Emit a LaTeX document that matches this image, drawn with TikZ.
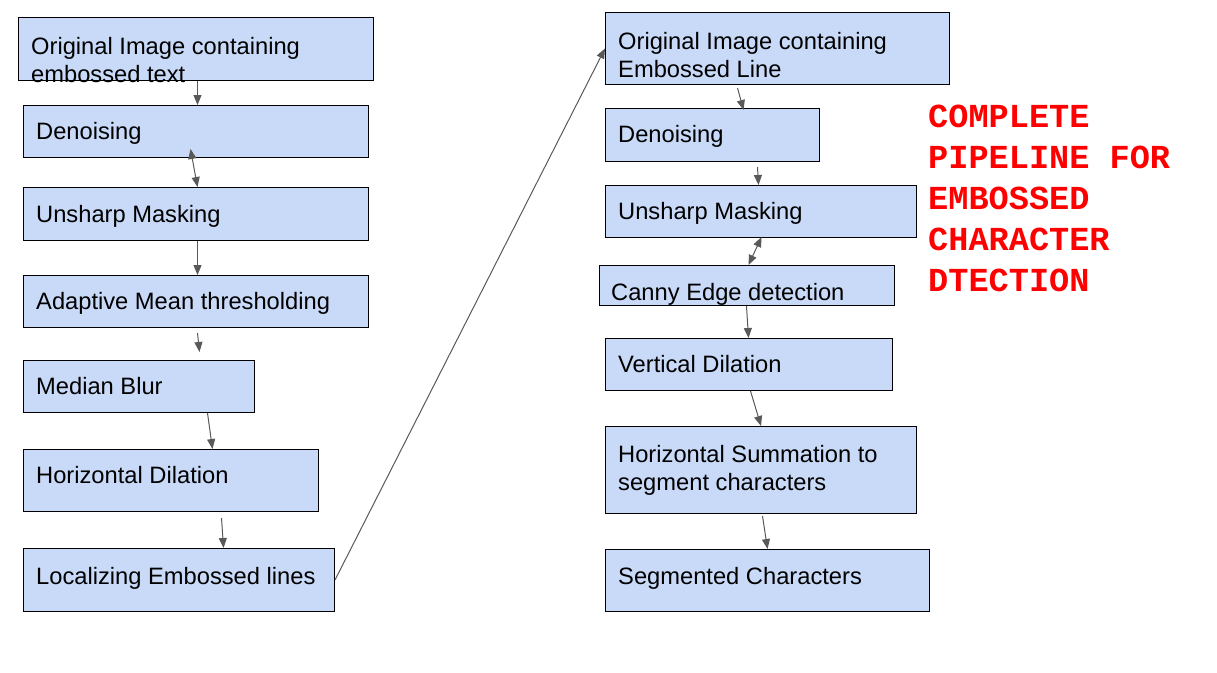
\documentclass[tikz,border=0pt]{standalone}
\usepackage{fontspec}
\setmainfont{Liberation Sans}
\newfontfamily\titlemono{Liberation Mono}
\usetikzlibrary{arrows.meta}

\begin{document}
\begin{tikzpicture}[x=1pt,y=1pt,
    stagebox/.style={draw=black, fill=stageblue, line width=1pt, anchor=north west, inner sep=0pt},
    stagetext/.style={anchor=north west, inner sep=0pt, align=left, font=\fontsize{23.7}{28}\selectfont},
    flow/.style={draw=flowgray, line width=1pt, -{Triangle[length=10pt,width=8pt]}},
    flowboth/.style={draw=flowgray, line width=1pt, {Triangle[length=10pt,width=8pt]}-{Triangle[length=10pt,width=8pt]}}]
    % Define colors
    \definecolor{stageblue}{RGB}{201,218,248}
    \definecolor{flowgray}{RGB}{89,89,89}
    \definecolor{titlered}{RGB}{255,0,0}

    \useasboundingbox (0,0) rectangle (1217,-672);

    % Left column boxes
    \node[stagebox, minimum width=355, minimum height=63] (l1) at (18,-17) {};
    \node[stagebox, minimum width=345, minimum height=52] (l2) at (23,-105) {};
    \node[stagebox, minimum width=345, minimum height=53] (l3) at (23,-187) {};
    \node[stagebox, minimum width=345, minimum height=52] (l4) at (23,-275) {};
    \node[stagebox, minimum width=231, minimum height=52] (l5) at (23,-360) {};
    \node[stagebox, minimum width=295, minimum height=62] (l6) at (23,-449) {};
    \node[stagebox, minimum width=311, minimum height=63] (l7) at (23,-548) {};

    % Right column boxes
    \node[stagebox, minimum width=344, minimum height=72] (r1) at (605,-12) {};
    \node[stagebox, minimum width=214, minimum height=53] (r2) at (605,-108) {};
    \node[stagebox, minimum width=311, minimum height=52] (r3) at (605,-185) {};
    \node[stagebox, minimum width=295, minimum height=40] (r4) at (599,-265) {};
    \node[stagebox, minimum width=287, minimum height=52] (r5) at (605,-338) {};
    \node[stagebox, minimum width=311, minimum height=87] (r6) at (605,-426) {};
    \node[stagebox, minimum width=324, minimum height=62] (r7) at (605,-549) {};

    % Box labels
    \node[stagetext] (l1t) at ([xshift=13,yshift=-20]l1.north west) {Original Image containing\\embossed text};
    \node[stagetext] (l2t) at ([xshift=13,yshift=-17.5]l2.north west) {Denoising};
    \node[stagetext] (l3t) at ([xshift=13,yshift=-18]l3.north west) {Unsharp Masking};
    \node[stagetext] (l4t) at ([xshift=13,yshift=-17.5]l4.north west) {Adaptive Mean thresholding};
    \node[stagetext] (l5t) at ([xshift=13,yshift=-17.5]l5.north west) {Median Blur};
    \node[stagetext] (l6t) at ([xshift=13,yshift=-17.5]l6.north west) {Horizontal Dilation};
    \node[stagetext] (l7t) at ([xshift=13,yshift=-19]l7.north west) {Localizing Embossed lines};
    \node[stagetext] (r1t) at ([xshift=13,yshift=-20]r1.north west) {Original Image containing\\Embossed Line};
    \node[stagetext] (r2t) at ([xshift=13,yshift=-17.5]r2.north west) {Denoising};
    \node[stagetext] (r3t) at ([xshift=13,yshift=-17.5]r3.north west) {Unsharp Masking};
    \node[stagetext] (r4t) at ([xshift=12,yshift=-18.5]r4.north west) {Canny Edge detection};
    \node[stagetext] (r5t) at ([xshift=13,yshift=-17.5]r5.north west) {Vertical Dilation};
    \node[stagetext] (r6t) at ([xshift=13,yshift=-19]r6.north west) {Horizontal Summation to\\segment characters};
    \node[stagetext] (r7t) at ([xshift=13,yshift=-18.5]r7.north west) {Segmented Characters};

    % Title
    \node[anchor=north west, inner sep=0pt, align=left, text=titlered,
          font=\titlemono\bfseries\fontsize{33.6}{41}\selectfont] (title) at (928,-105)
          {COMPLETE\\PIPELINE FOR\\EMBOSSED\\CHARACTER\\DTECTION};

    % Left column arrows
    \draw[flow] ([xshift=1.5]l1.south) -- ([xshift=1.5]l2.north);
    \draw[flowboth] ([xshift=-5.5,yshift=9]l2.south) -- ([xshift=1.5]l3.north);
    \draw[flow] ([xshift=1.5]l3.south) -- ([xshift=1.5]l4.north);
    \draw[flow] ([xshift=1.5,yshift=-5]l4.south) -- ([xshift=60.5,yshift=8]l5.north);
    \draw[flow] ([xshift=68.5]l5.south) -- ([xshift=41.5]l6.north);
    \draw[flow] ([xshift=50.5,yshift=-6]l6.south) -- ([xshift=44.5]l7.north);

    % Link to right column
    \draw[flow] (l7.east) -- (r1.west);

    % Right column arrows
    \draw[flow] ([xshift=-40,yshift=-3]r1.south) -- ([xshift=31,yshift=-2]r2.north);
    \draw[flow] ([xshift=45,yshift=-5]r2.south) -- ([xshift=-2.5]r3.north);
    \draw[flowboth] ([xshift=0.5,yshift=1]r3.south) -- ([xshift=1.5]r4.north);
    \draw[flow] ([xshift=-0.5]r4.south) -- ([xshift=-0.5]r5.north);
    \draw[flow] ([xshift=1.5]r5.south) -- (r6.north);
    \draw[flow] ([xshift=1.5,yshift=-2]r6.south) -- (r7.north);
\end{tikzpicture}
\end{document}
